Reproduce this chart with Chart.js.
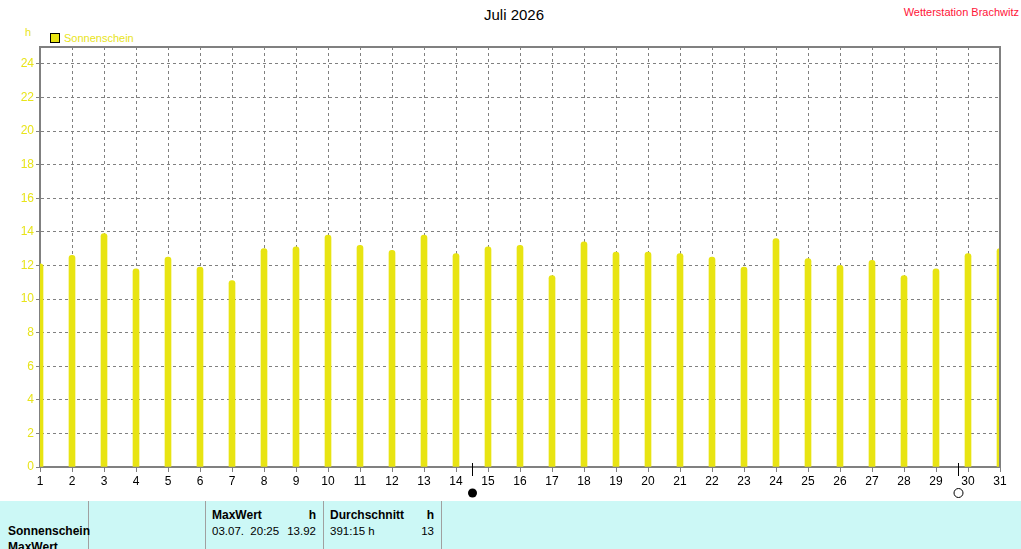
<!DOCTYPE html>
<html>
<head>
<meta charset="utf-8">
<script src="https://cdn.jsdelivr.net/npm/chart.js@4"></script>
<style>
  body { margin:0; width:1021px; height:549px; overflow:hidden; background:#fff; font-family:"Liberation Sans", Arial, sans-serif; position:relative; }
  #wrap { position:absolute; left:0; top:0; width:1021px; height:500px; }
  .t { position:absolute; white-space:nowrap; line-height:1; }
  .b { font-weight:bold; }
  #tbl { position:absolute; left:0; top:501px; width:1021px; height:48px; background:#ccf8f6; overflow:hidden; }
  .div { position:absolute; top:0; width:1px; height:48px; background:#a0a0a0; }
</style>
</head>
<body>
<div class="t" style="left:0;width:1028px;text-align:center;top:7px;font-size:15px;color:#000">Juli 2026</div>
<div class="t" style="right:2px;top:7px;font-size:11px;color:#ff1438">Wetterstation Brachwitz</div>
<div class="t" style="left:25px;top:27px;font-size:11px;color:#e8e41a">h</div>
<div style="position:absolute;left:50px;top:33px;width:8px;height:8px;background:#e8e412;border:1px solid #000"></div>
<div class="t" style="left:64px;top:33px;font-size:11px;color:#e8e41a">Sonnenschein</div>

<div id="wrap"><canvas id="chart"></canvas></div>

<div id="tbl">
  <div class="div" style="left:88px"></div>
  <div class="div" style="left:205px"></div>
  <div class="div" style="left:323px"></div>
  <div class="div" style="left:441px"></div>
  <div class="t b" style="left:8px;top:24px;font-size:12px">Sonnenschein</div>
  <div class="t b" style="left:8px;top:40px;font-size:12px">MaxWert</div>
  <div class="t b" style="left:212px;top:8px;font-size:12px">MaxWert</div>
  <div class="t b" style="left:290px;width:26px;text-align:right;top:8px;font-size:12px">h</div>
  <div class="t" style="left:212px;top:25px;font-size:11.5px">03.07.&nbsp; 20:25</div>
  <div class="t" style="left:276px;width:40px;text-align:right;top:25px;font-size:11.5px">13.92</div>
  <div class="t b" style="left:330px;top:8px;font-size:12px">Durchschnitt</div>
  <div class="t b" style="left:410px;width:24px;text-align:right;top:8px;font-size:12px">h</div>
  <div class="t" style="left:330px;top:25px;font-size:11.5px">391:15 h</div>
  <div class="t" style="left:400px;width:34px;text-align:right;top:25px;font-size:11.5px">13</div>
</div>

<script>
// daily sunshine hours, July 2026
const days = [1,2,3,4,5,6,7,8,9,10,11,12,13,14,15,16,17,18,19,20,21,22,23,24,25,26,27,28,29,30,31];
const sunshine = [12.1,12.6,13.9,11.8,12.5,11.9,11.1,13.0,13.1,13.8,13.2,12.9,13.8,12.7,13.1,13.2,11.4,13.4,12.8,12.8,12.7,12.5,11.9,13.6,12.4,12.0,12.3,11.4,11.8,12.7,13.0];
const yTicks = [0,2,4,6,8,10,12,14,16,18,20,22,24];
// moon phases: day position and type
const moonDays = [14.5, 29.7];
const moonFilled = [true, false];

const grey = '#808080';
const yellow = '#e8e412';

const frame = {
  id: 'frame',
  afterDraw(chart) {
    const {ctx, chartArea: a, scales: {x}} = chart;
    ctx.save();
    ctx.strokeStyle = grey;
    ctx.lineWidth = 2;
    ctx.beginPath();
    ctx.moveTo(a.left, a.top);
    ctx.lineTo(a.right, a.top);
    ctx.lineTo(a.right, a.bottom);
    ctx.stroke();
    // moon markers
    ctx.strokeStyle = '#000';
    ctx.fillStyle = '#000';
    ctx.lineWidth = 1;
    moonDays.forEach((d, i) => {
      const px = Math.round(x.getPixelForValue(d)) + 0.5;
      ctx.beginPath();
      ctx.moveTo(px, a.bottom - 4);
      ctx.lineTo(px, a.bottom + 9);
      ctx.stroke();
      ctx.beginPath();
      ctx.arc(px, a.bottom + 26, 4.5, 0, Math.PI * 2);
      if (moonFilled[i]) ctx.fill(); else ctx.stroke();
    });
    ctx.restore();
  }
};

new Chart(document.getElementById('chart'), {
  type: 'bar',
  data: {
    datasets: [{
      label: 'Sonnenschein',
      data: days.map((d, i) => ({x: d, y: sunshine[i]})),
      backgroundColor: yellow,
      barThickness: 6,
      borderRadius: {topLeft: 3, topRight: 3},
      borderSkipped: 'start'
    }]
  },
  options: {
    responsive: true,
    maintainAspectRatio: false,
    animation: false,
    layout: { padding: {left: 0, right: 21, top: 47, bottom: 0} },
    plugins: { legend: {display: false}, tooltip: {enabled: false} },
    scales: {
      x: {
        type: 'linear', min: 1, max: 31, offset: false,
        afterBuildTicks: s => { s.ticks = days.map(v => ({value: v})); },
        afterFit: s => { s.height = 33; },
        ticks: { color: '#000', font: {family: 'Liberation Sans', size: 12}, padding: 2, autoSkip: false, maxRotation: 0 },
        grid: { offset: false, color: grey, tickColor: grey, tickLength: 5, tickBorderDash: [] },
        border: { color: grey, width: 2, dash: [3, 3] }
      },
      y: {
        min: 0, max: 25,
        afterBuildTicks: s => { s.ticks = yTicks.map(v => ({value: v})); },
        afterFit: s => { s.width = 40; },
        ticks: { color: '#e8e41a', font: {family: 'Liberation Sans', size: 12}, padding: 2 },
        grid: { color: grey, tickColor: grey, tickLength: 4, tickBorderDash: [] },
        border: { color: grey, width: 2, dash: [3, 3] }
      }
    }
  },
  plugins: [frame]
});
</script>
</body>
</html>
